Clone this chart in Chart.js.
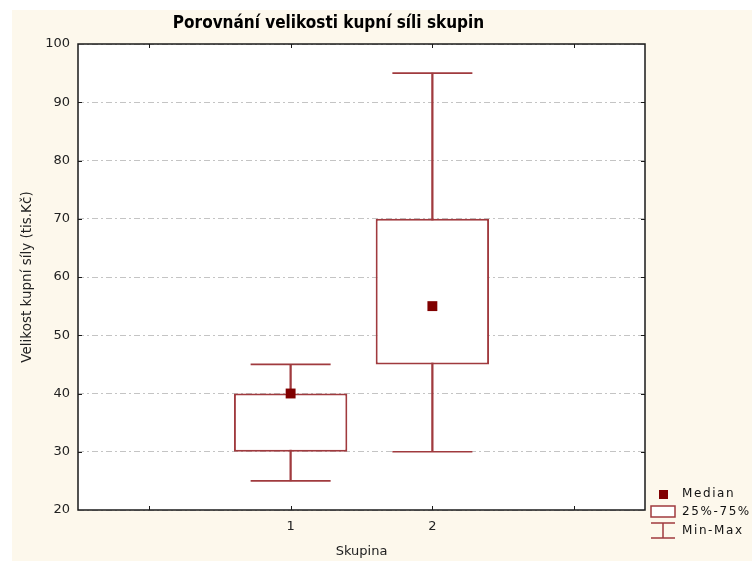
<!DOCTYPE html>
<html><head><meta charset="utf-8">
<script src="https://cdn.jsdelivr.net/npm/chart.js@4/dist/chart.umd.min.js"></script>
<style>html,body{margin:0;padding:0;background:#fff}#wrap{width:752px;height:561px;position:relative}</style>
</head><body><div id="wrap"><canvas id="c" width="752" height="561"></canvas></div>
<script>
// ---- data ----
const groups = [1, 2];
const xTickLabels = ['1', '2'];
const xTickPositions = [0, 1, 2, 3];
const minVals = [25, 30];
const q1Vals = [30, 45];
const medianVals = [40, 55];
const q3Vals = [40, 70];
const maxVals = [45, 95];
const yMin = 20, yMax = 100, yStep = 10;
const xMin = -0.5, xMax = 3.5;
const legendLabels = ['Median', '25%-75%', 'Min-Max'];
const titleText = 'Porovnání velikosti kupní síli skupin';
const xTitle = 'Skupina';
const yTitle = 'Velikost kupní síly (tis.Kč)';

// ---- styles ----
const LINE = '#a03a3e';
const MED = '#800000';
const CREAM = '#fdf8ec';
const FONT = "'DejaVu Sans', 'Liberation Sans', sans-serif";

const whiskerData = groups.map((g, i) => ({x: g, y: [minVals[i], maxVals[i]]}));
const boxData = groups.map((g, i) => ({x: g, y: [q1Vals[i], q3Vals[i]]}));
const capData = [];
groups.forEach((g, i) => { capData.push({x: g, y: minVals[i]}); capData.push({x: g, y: maxVals[i]}); });
const medData = groups.map((g, i) => ({x: g, y: medianVals[i]}));

const deco = {
  id: 'deco',
  beforeDraw(chart) {
    const {ctx, chartArea: a} = chart;
    ctx.save();
    ctx.fillStyle = CREAM;
    ctx.fillRect(12, 10, chart.width - 12, chart.height - 10);
    ctx.fillStyle = '#ffffff';
    ctx.fillRect(a.left, a.top, a.right - a.left, a.bottom - a.top);
    ctx.restore();
  },
  afterDraw(chart) {
    const {ctx, chartArea: a, scales} = chart;
    const xs = scales.x, ys = scales.y;
    ctx.save();
    ctx.strokeStyle = '#1a1a1a';
    ctx.lineWidth = 1.5;
    ctx.strokeRect(a.left, a.top, a.right - a.left, a.bottom - a.top);
    ctx.lineWidth = 1;
    ctx.beginPath();
    ys.ticks.forEach(t => {
      if (t.value > yMin && t.value < yMax) {
        const py = Math.round(ys.getPixelForValue(t.value)) + 0.5;
        ctx.moveTo(a.left, py); ctx.lineTo(a.left + 4, py);
        ctx.moveTo(a.right - 4, py); ctx.lineTo(a.right, py);
      }
    });
    xs.ticks.forEach(t => {
      if (t.value > xMin && t.value < xMax) {
        const px = Math.round(xs.getPixelForValue(t.value)) + 0.5;
        ctx.moveTo(px, a.bottom); ctx.lineTo(px, a.bottom - 4);
        ctx.moveTo(px, a.top); ctx.lineTo(px, a.top + 4);
      }
    });
    ctx.stroke();

    // legend
    const lx = 651, lw = 24, tx = 682;
    ctx.fillStyle = MED;
    ctx.fillRect(659, 490, 9, 9);
    ctx.strokeStyle = LINE;
    ctx.lineWidth = 1.5;
    ctx.fillStyle = '#ffffff';
    ctx.fillRect(lx, 506, lw, 11);
    ctx.strokeRect(lx, 506, lw, 11);
    ctx.beginPath();
    ctx.moveTo(lx, 523); ctx.lineTo(lx + lw, 523);
    ctx.moveTo(lx + lw / 2, 523); ctx.lineTo(lx + lw / 2, 538);
    ctx.moveTo(lx, 538); ctx.lineTo(lx + lw, 538);
    ctx.stroke();
    ctx.fillStyle = '#111';
    ctx.font = '12px ' + FONT;
    ctx.textBaseline = 'middle';
    ctx.textAlign = 'left';
    try { ctx.letterSpacing = '1.6px'; } catch (e) {}
    const ly = [494, 512, 531];
    legendLabels.forEach((l, i) => ctx.fillText(l, tx, ly[i]));
    ctx.restore();
  }
};

new Chart(document.getElementById('c'), {
  type: 'bar',
  data: {
    datasets: [
      {type: 'line', data: medData, showLine: false, pointStyle: 'rect', pointRadius: 7,
        pointBackgroundColor: MED, pointBorderColor: MED, pointBorderWidth: 0, order: 0},
      {type: 'line', data: capData, showLine: false, pointStyle: 'line', pointRadius: 40,
        pointBorderColor: LINE, pointBorderWidth: 1.6, order: 1},
      {type: 'bar', data: boxData, backgroundColor: '#ffffff', borderColor: LINE, borderWidth: 2,
        borderSkipped: false, grouped: false, barPercentage: 0.8, categoryPercentage: 1.0, order: 2},
      {type: 'bar', data: whiskerData, backgroundColor: LINE, borderWidth: 0, grouped: false,
        barThickness: 1.6, order: 3}
    ]
  },
  options: {
    responsive: false,
    animation: false,
    events: [],
    layout: {padding: {left: 12, right: 107, top: 0, bottom: 0}},
    plugins: {
      legend: {display: false},
      tooltip: {enabled: false},
      title: {display: true, text: titleText, color: '#000',
        font: {family: "'Liberation Sans Narrow', 'DejaVu Sans Condensed', sans-serif", size: 17, weight: 'bold'},
        padding: {top: 13, bottom: 10.6}}
    },
    scales: {
      x: {
        type: 'linear', min: xMin, max: xMax, offset: false,
        grid: {display: false, offset: false, drawTicks: false},
        border: {display: false},
        afterBuildTicks: (s) => { s.ticks = xTickPositions.map(v => ({value: v})); },
        ticks: {color: '#222', font: {family: FONT, size: 13}, padding: 9, autoSkip: false,
          maxRotation: 0,
          callback: (v) => { const i = groups.indexOf(v); return i >= 0 ? xTickLabels[i] : ''; }},
        title: {display: true, text: xTitle, color: '#222', font: {family: FONT, size: 13}, padding: {top: 0, bottom: 2}},
        afterFit: (s) => { s.height = 51; }
      },
      y: {
        min: yMin, max: yMax, beginAtZero: false,
        grid: {color: '#c4c4c4', lineWidth: 1, drawTicks: false},
        border: {display: false, dash: [6, 3, 2, 3]},
        ticks: {stepSize: yStep, color: '#222', font: {family: FONT, size: 13}, padding: 8},
        title: {display: true, text: yTitle, color: '#222', font: {family: FONT, size: 13.5}, padding: {top: 7, bottom: 0}},
        afterFit: (s) => { s.width = 66; }
      }
    }
  },
  plugins: [deco]
});
</script>
</body></html>
